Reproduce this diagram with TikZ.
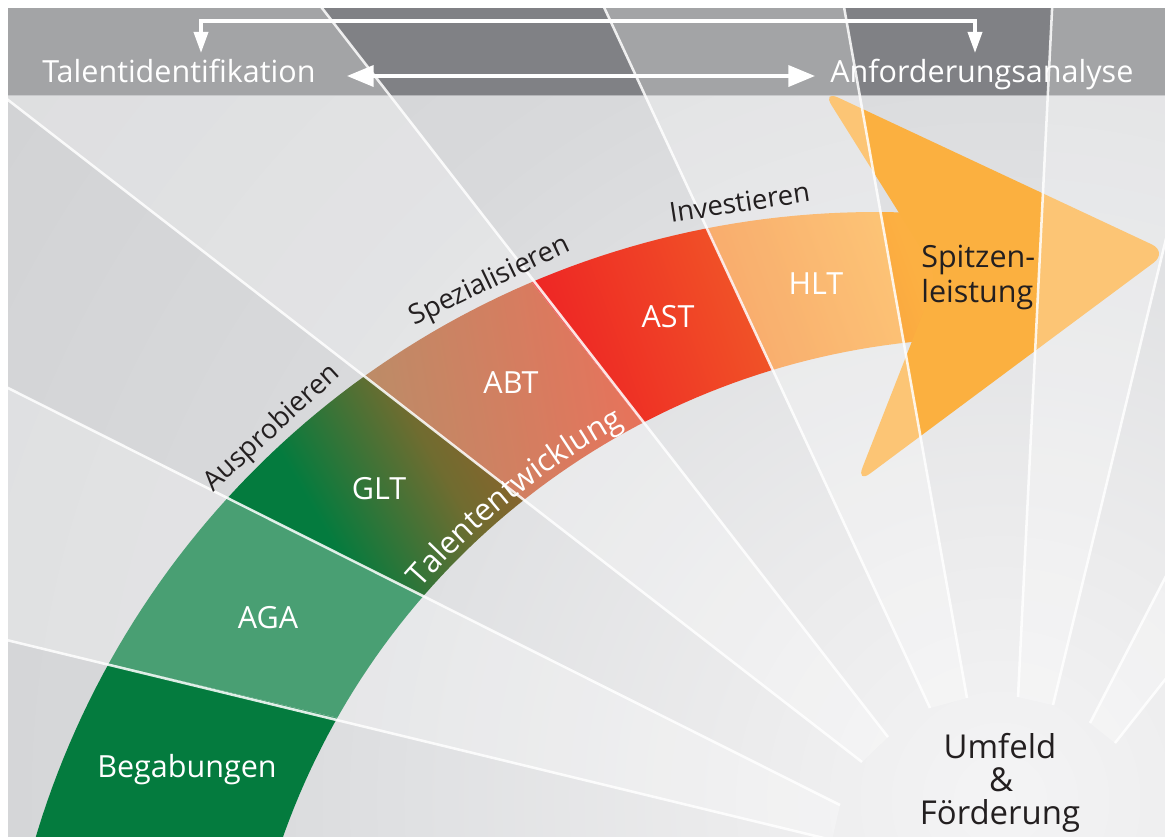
\documentclass[tikz,border=0pt]{standalone}
\usepackage{fontspec}
\setmainfont{Open Sans}
\usetikzlibrary{arrows.meta,decorations.text}

\definecolor{bg0}{RGB}{244,244,245}
\definecolor{bg1}{RGB}{235,235,236}
\definecolor{bg2}{RGB}{224,225,227}
\definecolor{bg3}{RGB}{216,217,219}
\definecolor{bg4}{RGB}{213,214,216}
\definecolor{bg5}{RGB}{200,201,203}
\definecolor{bg6}{RGB}{196,197,199}
\definecolor{topband}{RGB}{128,129,133}
\definecolor{bandedge}{RGB}{180,181,184}
\definecolor{cgreen}{RGB}{4,123,62}
\definecolor{colive}{RGB}{112,108,48}
\definecolor{cbrown}{RGB}{172,88,38}
\definecolor{cbrownb}{RGB}{146,106,50}
\definecolor{credb}{RGB}{238,52,24}
\definecolor{cred}{RGB}{237,28,36}
\definecolor{corg}{RGB}{243,122,41}
\definecolor{corgb}{RGB}{244,124,48}
\definecolor{clorg}{RGB}{252,176,66}
\definecolor{carrow}{RGB}{251,176,64}
\definecolor{ctext}{RGB}{35,31,32}

\pgfdeclareradialshading{bgglow}{\pgfpoint{0bp}{0bp}}{color(0bp)=(bg0); color(5bp)=(bg1); color(10.4bp)=(bg2); color(14.3bp)=(bg3); color(17.9bp)=(bg4); color(33.9bp)=(bg5); color(50bp)=(bg6)}
\pgfdeclarehorizontalshading{gltsh}{100bp}{color(0bp)=(cgreen); color(40bp)=(cgreen); color(60bp)=(colive); color(84bp)=(cbrown); color(100bp)=(cbrown)}
\pgfdeclarehorizontalshading{abtsh}{100bp}{color(0bp)=(cbrownb); color(18bp)=(cbrownb); color(82bp)=(credb); color(100bp)=(credb)}
\pgfdeclarehorizontalshading{astsh}{100bp}{color(0bp)=(cred); color(25bp)=(cred); color(100bp)=(corg)}
\pgfdeclarehorizontalshading{hltsh}{100bp}{color(0bp)=(corgb); color(15bp)=(corgb); color(65bp)=(clorg); color(100bp)=(clorg)}

\newcommand\lblfont{\fontsize{21.7}{26}\selectfont}
\newcommand\rotfont{\fontsize{19.5}{24}\selectfont}
\newcommand\tewfont{\fontsize{22}{26}\selectfont}
\newcommand\umffont{\fontsize{23.4}{28}\selectfont}

\begin{document}
\begin{tikzpicture}[x=0.025cm,y=-0.025cm,
  lbl/.style={text=white, font=\lblfont, inner sep=0pt},
  dlbl/.style={text=ctext, font=\lblfont, inner sep=0pt},
  ulbl/.style={text=ctext, font=\umffont, inner sep=0pt, anchor=base},
  rlbl/.style={text=ctext, font=\rotfont, inner sep=0pt, anchor=base},
  ray/.style={draw=white, draw opacity=0.85, line width=1.8pt},
  strip/.style={fill=white, fill opacity=0.28},
  smallhead/.style={white, line width=2.5pt, arrows={Triangle[length=15pt,width=10pt]-Triangle[length=15pt,width=10pt]}},
  bighead/.style={white, line width=2.5pt, arrows={Triangle[length=19pt,width=15pt]-Triangle[length=19pt,width=15pt]}}
]
\useasboundingbox (0,0) rectangle (1165,836);
\fill[white] (0,0) rectangle (1165,836);

\begin{scope}
\clip (8,8) rectangle (1165,836);
% background glow
\shade[shading=bgglow] (1000,800) circle (1400);

% development band
\begin{scope}
\clip plot[domain=190:280,samples=90] ({875+876*cos(\x)},{1088+876*sin(\x)})
   -- plot[domain=282:193,samples=90] ({989+749*cos(\x)},{1087+749*sin(\x)}) -- cycle;
\fill[cgreen] (-20,870) -- (68,654) -- (377,727) -- (330,870) -- cycle;
\fill[cgreen] (68,654) -- (191,479) -- (459,615) -- (377,727) -- cycle;
\shade[shading=gltsh, shading angle=30] (191,479) -- (333,350) -- (555,525) -- (459,615) -- cycle;
\shade[shading=abtsh, shading angle=10] (333,350) -- (507,251) -- (665,452) -- (555,525) -- cycle;
\shade[shading=astsh, shading angle=20] (507,251) -- (693,194) -- (790,406) -- (665,452) -- cycle;
\shade[shading=hltsh, shading angle=20] (693,194) -- (980,170) -- (980,420) -- (790,406) -- cycle;
\end{scope}

% arrow head
\fill[carrow, rounded corners=0.45cm] (938,275) -- (822,90) -- (1168,252) -- (856,484) -- cycle;

% top band
\fill[topband] (0,0) rectangle (1165,95);
\draw[bandedge, line width=1.2pt] (0,95.5) -- (1165,95.5);

% light rays
\fill[strip] (-10,636) -- (832,840) -- (840,805) -- (-10,379) -- cycle;
\fill[strip] (-10,86) -- (862,762) -- (888,737) -- (308,-10) -- (-10,-10) -- cycle;
\fill[strip] (596,-10) -- (930,708) -- (967,698) -- (841,-10) -- cycle;
\fill[strip] (1053,-10) -- (1018,697) -- (1053,705) -- (1236,-50) -- (1053,-50) -- cycle;
\fill[strip] (1300,317) -- (1090,723) -- (1115,743) -- (1300,509) -- cycle;

\draw[ray] (-10,636) -- (832,840);
\draw[ray] (-10,379) -- (840,805);
\draw[ray] (-10,86) -- (862,762);
\draw[ray] (308,-10) -- (888,737);
\draw[ray] (596,-10) -- (930,708);
\draw[ray] (841,-10) -- (967,698);
\draw[ray] (1053,-10) -- (1018,697);
\draw[ray] (1236,-50) -- (1053,705);
\draw[ray] (1300,317) -- (1090,723);
\draw[ray] (1300,509) -- (1115,743);
\end{scope}

% top labels and arrows
\node[lbl, anchor=base west] (tid) at (42,82) {Talentidentifikation};
\node[lbl, anchor=base west] (anf) at (830,82) {Anforderungsanalyse};
\coordinate (tidtop) at (201,53);
\coordinate (anftop) at (975,53);
\coordinate (dl) at (347,76);
\coordinate (dr) at (815,76);
\draw[smallhead] (tidtop) -- ++(0,-32) -| (anftop);
\draw[bighead] (dl) -- (dr);

% band labels
\node[lbl, anchor=base] (beg) at (187,777) {Begabungen};
\node[lbl, anchor=base] (aga) at (268,628) {AGA};
\node[lbl, anchor=base] (glt) at (379,499) {GLT};
\node[lbl, anchor=base] (abt) at (511,393) {ABT};
\node[lbl, anchor=base] (ast) at (668,327) {AST};
\node[lbl, anchor=base] (hlt) at (816,294) {HLT};

\node[rlbl, rotate=42.5] (aus) at (277,434) {Ausprobieren};
\node[rlbl, rotate=25.6] (spz) at (493,288) {Spezialisieren};
\node[rlbl, rotate=8.7] (inv) at (741,212) {Investieren};

\path[decorate, decoration={text along path, text align=center, text color=white,
   text={|\tewfont|Talententwicklung}}]
   (377.4,642.6) .. controls (456,534) and (562.7,447.8) .. (686.4,394.2);

\node[dlbl, anchor=base west] (sp1) at (921,267) {Spitzen-};
\node[dlbl, anchor=base west] (sp2) at (921,302) {leistung};

\node[ulbl] (um1) at (1000,758) {Umfeld};
\node[ulbl] (um2) at (1001,791) {\&};
\node[ulbl] (um3) at (1000,824) {Förderung};
\end{tikzpicture}
\end{document}
